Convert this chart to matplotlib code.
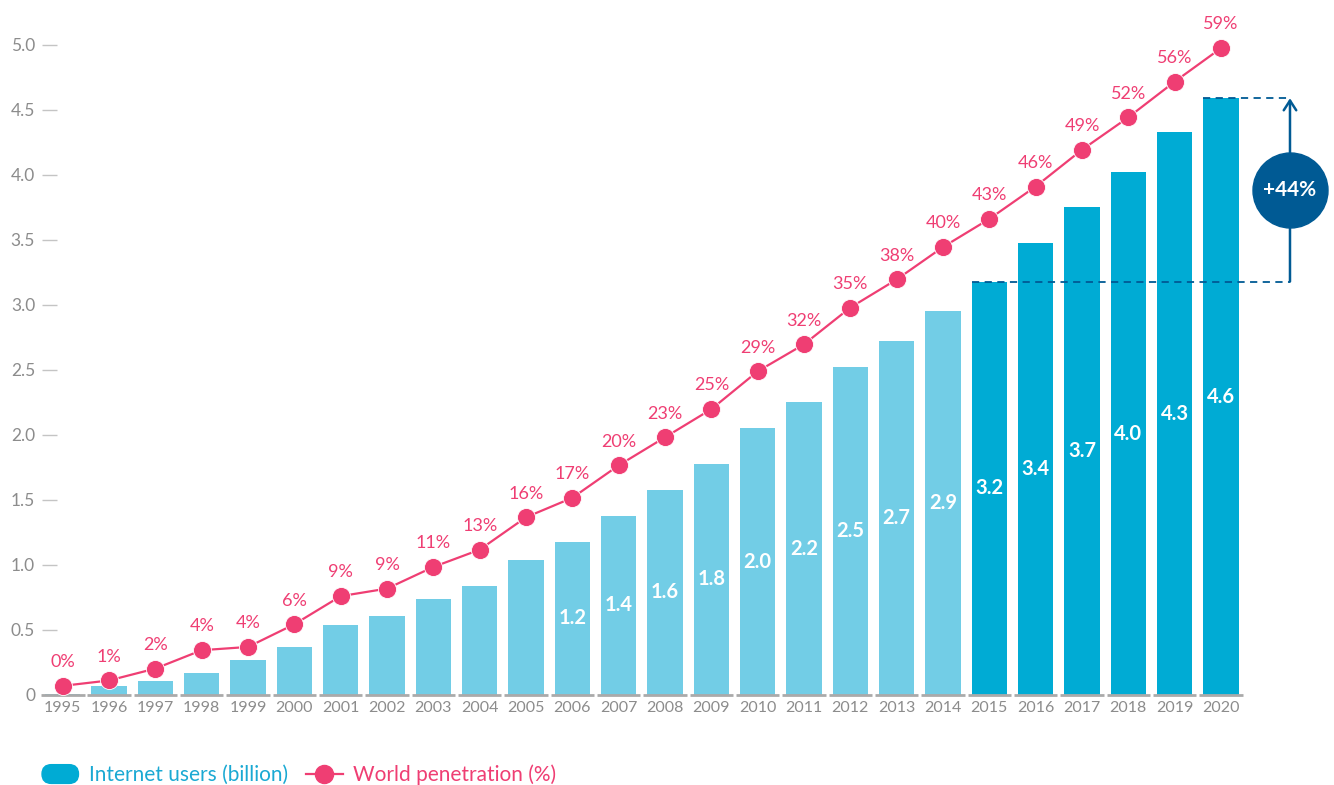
# Internet users and world penetration, 1995-2020

import numpy as np
import matplotlib.pyplot as plt
from matplotlib.lines import Line2D
from matplotlib.patches import Patch, FancyBboxPatch
from matplotlib.legend_handler import HandlerPatch

plt.rcParams["font.family"] = ["Lato", "DejaVu Sans"]

years = [str(y) for y in range(1995, 2021)]
users = [0.01, 0.07, 0.11, 0.17, 0.27, 0.37, 0.54, 0.61, 0.74, 0.84, 1.04, 1.18, 1.38,
         1.58, 1.78, 2.05, 2.25, 2.52, 2.72, 2.95, 3.18, 3.48, 3.75, 4.02, 4.33, 4.59]
user_labels = [""] * 11 + ["1.2", "1.4", "1.6", "1.8", "2.0", "2.2", "2.5", "2.7", "2.9",
                           "3.2", "3.4", "3.7", "4.0", "4.3", "4.6"]
penetration = [0.0, 0.5, 1.6, 3.3, 3.6, 5.7, 8.3, 9.0, 11.0, 12.6, 15.6, 17.4, 20.4,
               23.0, 25.6, 29.1, 31.6, 35.0, 37.6, 40.6, 43.2, 46.2, 49.6, 52.6, 55.9, 59.0]
pen_labels = ["0%", "1%", "2%", "4%", "4%", "6%", "9%", "9%", "11%", "13%", "16%", "17%",
              "20%", "23%", "25%", "29%", "32%", "35%", "38%", "40%", "43%", "46%", "49%",
              "52%", "56%", "59%"]
growth_label = "+44%"

LIGHT = "#72cde6"
DARK = "#00abd4"
PINK = "#ef3e73"
NAVY = "#005a94"
GREY = "#8c8c8c"

x = np.arange(len(years))
colors = [LIGHT if int(y) < 2015 else DARK for y in years]

fig = plt.figure(figsize=(13.34, 7.85), dpi=100)
ax = fig.add_axes([0.0315, 0.1147, 0.9685, 0.879])

ax.bar(x, users, width=0.76, color=colors, zorder=2)
ax.hlines(np.zeros(len(x)), x - 0.47, x + 0.47, color="#aaaaaa", linewidth=2, zorder=3,
          clip_on=False)

for i, lab in enumerate(user_labels):
    if lab:
        ax.text(x[i], users[i] / 2, lab, ha="center", va="center", color="white",
                fontsize=14.5, fontweight="bold", zorder=4)

ax.set_xlim(-0.447, 27.44)
ax.set_ylim(0, 5.3077)
ax.set_yticks(np.arange(0, 5.01, 0.5))
ax.set_yticklabels(["0"] + ["%.1f" % v for v in np.arange(0.5, 5.01, 0.5)])
ax.set_xticks(x)
ax.set_xticklabels(years)
ax.tick_params(axis="y", direction="in", length=10.8, width=1, color="#c4c4c4",
               labelcolor=GREY, labelsize=12.5, pad=5)
ax.tick_params(axis="x", length=0, labelcolor=GREY, labelsize=11.5, pad=4)
for s in ax.spines.values():
    s.set_visible(False)

# growth annotation 2015 -> 2020
i15, i20 = years.index("2015"), years.index("2020")
xa = 26.49
ax.plot([x[i15] - 0.38, xa], [users[i15]] * 2, color=NAVY, lw=1.3, ls=(0, (4, 3)), zorder=3)
ax.plot([x[i20] - 0.38, xa], [users[i20]] * 2, color=NAVY, lw=1.3, ls=(0, (4, 3)), zorder=3)
ax.annotate("", xy=(xa, users[i20]), xytext=(xa, users[i15]),
            arrowprops=dict(arrowstyle="->,head_length=0.7,head_width=0.45", color=NAVY, lw=1.8,
                            shrinkA=0, shrinkB=0), zorder=3)
ymid = (users[i15] + users[i20]) / 2
ax.plot([xa], [ymid], marker="o", markersize=54, color=NAVY, zorder=5, clip_on=False)
ax.text(xa, ymid, growth_label, ha="center", va="center", color="white",
        fontsize=15, fontweight="bold", zorder=6)

# penetration line on its own scale
ax2 = ax.twinx()
ax2.set_ylim(-0.842, 63.0)
ax2.set_zorder(ax.get_zorder() + 1)
ax2.patch.set_visible(False)
ax2.plot(x, penetration, color=PINK, lw=1.6, marker="o", markersize=13,
         markeredgecolor="white", markeredgewidth=0.6, zorder=3)
for i, lab in enumerate(pen_labels):
    ax2.annotate(lab, (x[i], penetration[i]), xytext=(0, 13.5), textcoords="offset points",
                 ha="center", va="baseline", color=PINK, fontsize=13)
ax2.set_yticks([])
for s in ax2.spines.values():
    s.set_visible(False)


def pill(legend, orig_handle, xdescent, ydescent, width, height, fontsize):
    h = height + 3
    return FancyBboxPatch((-xdescent, -ydescent - 1.5), width, h,
                          boxstyle="round,pad=0,rounding_size=%f" % (h / 2))


handles = [Patch(color=DARK),
           Line2D([], [], color=PINK, lw=1.6, marker="o", markersize=13)]
leg = fig.legend(handles, ["Internet users (billion)", "World penetration (%)"],
                 loc="center left", bbox_to_anchor=(0.0315, 0.0127), ncol=2,
                 frameon=False, fontsize=15, handlelength=1.75, handletextpad=0.5,
                 columnspacing=0.87, borderpad=0, borderaxespad=0,
                 handler_map={Patch: HandlerPatch(patch_func=pill)})
leg.get_texts()[0].set_color("#1aa9d3")
leg.get_texts()[1].set_color(PINK)

plt.savefig("out.png", dpi=100)
